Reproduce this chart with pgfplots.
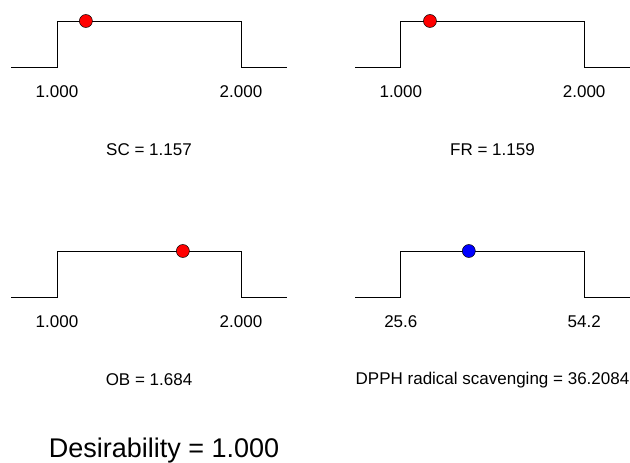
\documentclass[border=0pt]{standalone}
\usepackage{fontspec}
\setmainfont{Liberation Sans}
\usepackage{pgfplots}
\pgfplotsset{compat=1.18}

\pgfplotsset{
  desir/.style={
    scale only axis, width=276pt, height=46pt,
    ymin=0, ymax=1, clip=false,
    axis line style={draw=none}, tick style={draw=none},
    ytick=\empty, xtick={#1},
    /pgf/number format/assume math mode=true,
    every tick label/.append style={font=\fontsize{17}{20}\selectfont},
    xticklabel style={anchor=center, yshift=-25pt},
    xlabel style={at={(axis description cs:0.5,0)}, anchor=center, yshift=-83pt,
      font=\fontsize{17}{20}\selectfont},
  },
  stepline/.style={black, line width=0.8pt},
  dot/.style={only marks, mark=*, mark size=6.5pt,
    mark options={fill=#1, draw=black, line width=0.5pt}},
}

\begin{document}
\begin{tikzpicture}[x=1pt,y=1pt]
\path[use as bounding box] (0,0) rectangle (630,463);

% SC
\begin{axis}[desir={1,2}, at={(11pt,396pt)}, xmin=0.75, xmax=2.25,
  xticklabels={1.000,2.000}, xlabel={SC = 1.157}]
\addplot[stepline] coordinates {(0.75,0)(1,0)(1,1)(2,1)(2,0)(2.25,0)};
\addplot[dot=red] coordinates {(1.157,1)};
\end{axis}

% FR
\begin{axis}[desir={1,2}, at={(355pt,396pt)}, width=275pt, xmin=0.75, xmax=2.25,
  xticklabels={1.000,2.000}, xlabel={FR = 1.159}]
\addplot[stepline] coordinates {(0.75,0)(1,0)(1,1)(2,1)(2,0)(2.25,0)};
\addplot[dot=red] coordinates {(1.159,1)};
\end{axis}

% OB
\begin{axis}[desir={1,2}, at={(11pt,166pt)}, xmin=0.75, xmax=2.25,
  xticklabels={1.000,2.000}, xlabel={OB = 1.684}]
\addplot[stepline] coordinates {(0.75,0)(1,0)(1,1)(2,1)(2,0)(2.25,0)};
\addplot[dot=red] coordinates {(1.684,1)};
\end{axis}

% DPPH
\begin{axis}[desir={25.6,54.2}, at={(355pt,166pt)}, width=275pt, xmin=18.45, xmax=61.35,
  xticklabels={25.6,54.2}, xlabel={DPPH radical scavenging = 36.2084}]
\addplot[stepline] coordinates {(18.45,0)(25.6,0)(25.6,1)(54.2,1)(54.2,0)(61.35,0)};
\addplot[dot=blue] coordinates {(36.2084,1)};
\end{axis}

\node[font=\fontsize{27}{32}\selectfont, anchor=center] at (164,12) {Desirability = 1.000};
\end{tikzpicture}
\end{document}
